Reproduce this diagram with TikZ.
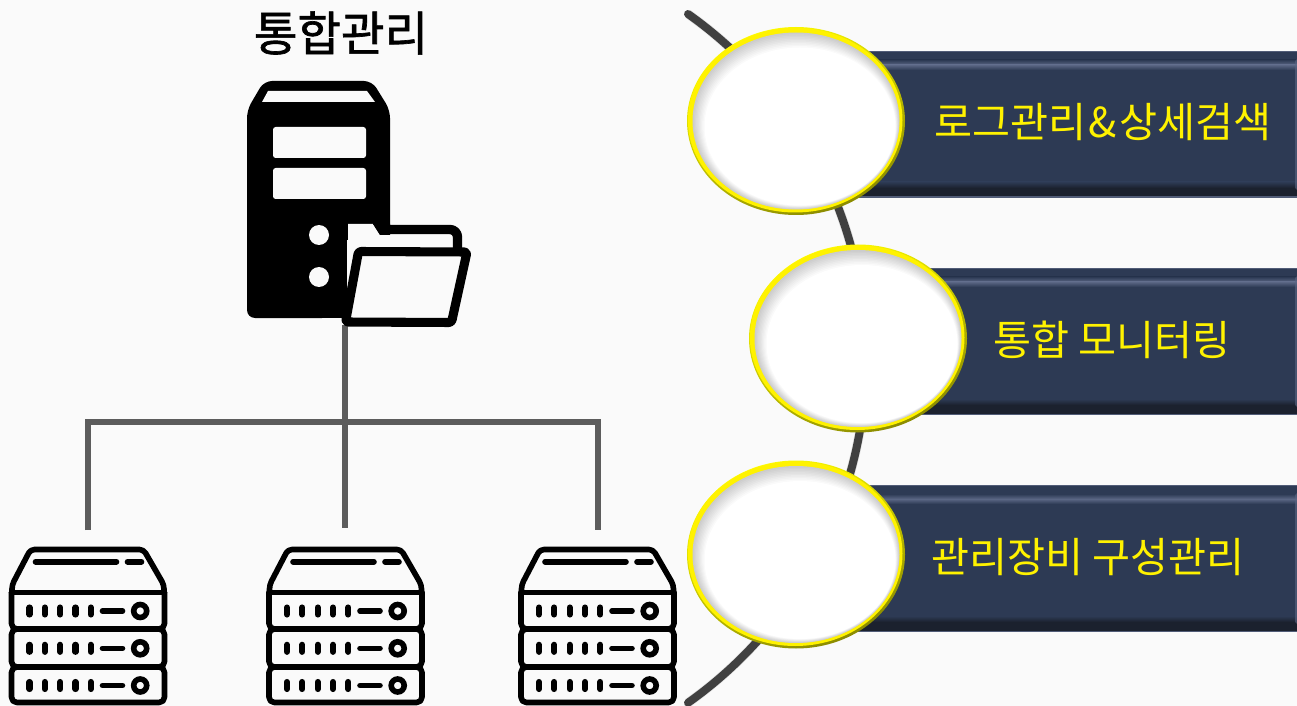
\documentclass[tikz,border=0pt]{standalone}
\usepackage{fontspec}
\setmainfont{Noto Sans CJK KR}
\newfontfamily\titlefont[FakeBold=1.4]{Noto Sans CJK KR}
\usetikzlibrary{shapes.geometric}
\definecolor{bgc}{HTML}{FAFAFA}
\definecolor{barc}{HTML}{2D3A54}
\definecolor{barhi}{HTML}{5A6684}
\definecolor{barlo}{HTML}{1B212E}
\definecolor{linec}{HTML}{5C5C5C}
\definecolor{arcc}{HTML}{404040}
\definecolor{olive}{HTML}{8A8A00}
\tikzset{
  x=.75pt,y=-.75pt,
  iconline/.style={draw=black,line width=4.2pt,line cap=round,line join=round},
  iconthin/.style={draw=black,line width=4.2pt,line cap=round},
  treeline/.style={draw=linec,line width=4.1pt},
  treeshadow/.style={draw=black!35,line width=5pt,opacity=.3},
  spine/.style={draw=arcc,line width=6pt,line cap=round},
  spineshadow/.style={draw=black!40,line width=7pt,opacity=.25},
  barlabel/.style={text=yellow,font=\fontsize{31pt}{34pt}\selectfont,inner sep=0pt,anchor=center},
  pics/rackrow/.style={code={
    \foreach \dx in {30,45.3,60.7,76,91.3}{\draw[iconline,line width=4.6pt] (\dx,-3.5) -- (\dx,3.5);}
    \draw[iconline,line width=4.2pt] (103,0) -- (123,0);
    \draw[draw=black,line width=4.2pt] (140.7,0) circle (6.5);
  }},
  pics/rackicon/.style={code={
    \draw[iconline,rounded corners=3pt] (12.5,592) -- (12.5,585) -- (31,549.5) -- (144,549.5) -- (164.5,585) -- (164.5,592);
    \draw[iconthin] (36,561.7) -- (117,561.7);
    \draw[iconthin] (128,561.7) -- (142,561.7);
    \draw[iconline,line join=miter] (12,592.5) -- (165,592.5);
    \draw[iconline,rounded corners=4pt] (12,592.5) -- (12,629) -- (165,629) -- (165,592.5);
    \draw[iconline,rounded corners=4pt] (12,629) rectangle (165,667);
    \draw[iconline,rounded corners=4pt] (12,667) rectangle (165,702.5);
    \pic at (0,611) {rackrow};
    \pic at (0,648.3) {rackrow};
    \pic at (0,685.5) {rackrow};
  }},
  pics/badge/.style={code={
    \shade[top color=yellow,middle color=yellow,bottom color=olive,shading angle=25] (0,0) ellipse [x radius=109,y radius=94];
    \fill[yellow] (-.8,-.8) ellipse [x radius=107.3,y radius=92.3];
    \foreach \i in {0,...,10}{
      \pgfmathsetmacro\mixv{\i*10}
      \fill[white!\mixv!black!20] ({\i*.4},{\i*.55}) ellipse [x radius={103.5-\i*.8},y radius={88.5-\i*.95}];
    }
  }},
  pics/barbody/.style={code={
    \fill[barc] (#1,0) rectangle (1297,147);
    \fill[black!10!barhi] (#1,0) rectangle (1297,1.2);
    \shade[top color=barc,bottom color=barhi] (#1,9) rectangle (1297,14);
    \shade[top color=barhi,bottom color=barc] (#1,14) rectangle (1297,19);
    \shade[top color=barc,bottom color=barlo] (#1,131) rectangle (1297,137);
    \fill[barlo] (#1,137) rectangle (1297,145.5);
    \fill[black!10!barhi] (#1,145.5) rectangle (1297,147);
    \fill[barhi,opacity=.6] (1295,10) -- (1297,8) -- (1297,139) -- (1295,137) -- cycle;
  }},
}
\begin{document}
\begin{tikzpicture}
\useasboundingbox (0,0) rectangle (1297,706);
\fill[bgc] (0,0) rectangle (1297,706);

% named anchors of the tree
\coordinate (srv) at (345,325);
\coordinate (hub) at (345,422);
\coordinate (left) at (88,422);
\coordinate (right) at (598,422);
\coordinate (leafa) at (88,530);
\coordinate (leafb) at (345,528);
\coordinate (leafc) at (598,530);

% tree shadow
\begin{scope}[shift={(3,3)}]
\draw[treeshadow] (srv) -- (leafb);
\draw[treeshadow] (leafa) -- (left) -- (right) -- (leafc);
\end{scope}
\draw[treeline] (srv) -- (leafb);
\draw[treeline] (leafa) -- (left) -- (right) -- (leafc);

% server tower
\fill[black,rounded corners=6pt] (247,318) -- (247,110) -- (264,81) -- (372,81) -- (390,110) -- (390,240) -- (330,240) -- (330,318) -- cycle;
\fill[black] (320,225) rectangle (390,240);
\fill[black] (300,240) rectangle (347,318);
\fill[bgc] (262,102) -- (268,91) -- (367,91) -- (375,102) -- cycle;
\fill[bgc,rounded corners=2pt] (273,127) rectangle (366,158);
\fill[bgc,rounded corners=2pt] (273,168) rectangle (366,199);
\fill[bgc] (319,235) circle (10);
\fill[bgc] (319,277) circle (10);
% folder
\fill[bgc] (390,235) -- (380,235) -- (373,224) -- (348,224) -- (348,272) -- (358,250) -- (460,250) -- (460,235) -- cycle;
\fill[black] (373,224) -- (390,224) -- (390,235) -- (380,235) -- cycle;
\draw[black,line width=7pt,line join=round] (385,229.5) -- (450,229.5) to[out=0,in=90] (457.5,237) -- (457.5,250);
\fill[bgc,draw=black,line width=6.8pt,line join=round,rounded corners=2pt] (358.5,251.5) -- (467,252) -- (451.5,322.5) -- (345.5,322) -- cycle;

% racks
\pic (racka) at (-.5,0) {rackicon};
\pic (rackb) at (257,0) {rackicon};
\pic (rackc) at (509,0) {rackicon};

% title
\node (title) [inner sep=0pt,font=\fontsize{35.5pt}{38pt}\selectfont\titlefont] at (341,33) {통합관리};

% curved spine
\coordinate (spinetop) at (688,14);
\begin{scope}[shift={(3,4)}]
\draw[spineshadow] (spinetop) arc[start angle=54.7,end angle=-54.7,radius=316.5pt];
\end{scope}
\draw[spine] (spinetop) arc[start angle=54.7,end angle=-54.7,radius=316.5pt];

% bars
\pic (bara) at (0,51) {barbody={840}};
\pic (barb) at (0,268) {barbody={902}};
\pic (barc) at (0,485) {barbody={840}};

% badges
\pic (badgea) at (796,121) {badge};
\pic (badgeb) at (858,338.5) {badge};
\pic (badgec) at (796,554.5) {badge};

% labels
\node (laba) [barlabel] at (1103,122) {로그관리\hspace{2pt}\&\hspace{2pt}상세검색};
\node (labb) [barlabel] at (1112,340) {통합 모니터링};
\node (labc) [barlabel] at (1088,557) {관리장비 구성관리};
\end{tikzpicture}
\end{document}
